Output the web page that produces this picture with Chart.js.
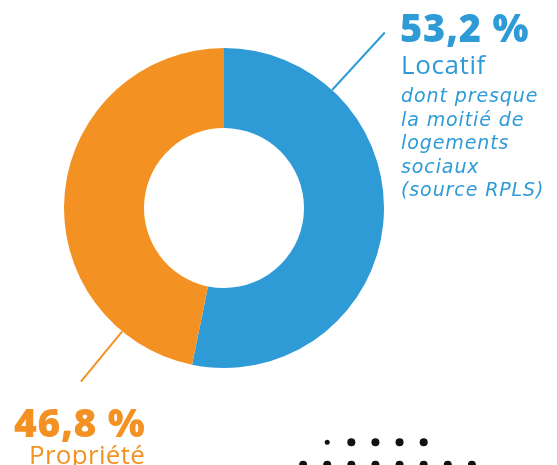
<!DOCTYPE html>
<html lang="fr">
<head>
<meta charset="utf-8">
<script src="https://cdn.jsdelivr.net/npm/chart.js@4/dist/chart.umd.min.js"></script>
<style>
  html, body { margin: 0; padding: 0; background: #fff; overflow: hidden; }
  #wrap { position: relative; width: 557px; height: 465px; font-family: "Open Sans", sans-serif; }
  #donut { position: absolute; left: 0; top: 0; }
  #dots { position: absolute; left: 275px; top: 416px; }
  .lbl { position: absolute; white-space: nowrap; line-height: 1; }
  .pct { font-weight: 800; font-size: 38px; letter-spacing: 0.8px; }
  .cat { font-size: 26px; letter-spacing: 0.6px; }
  .note { font-family: "DejaVu Sans", sans-serif; font-style: italic; font-size: 19px; line-height: 23.5px; letter-spacing: 0.9px; }
  .bleu { color: #2e9bd7; }
  .orange { color: #f39223; }
</style>
</head>
<body>
<div id="wrap">
  <canvas id="donut" width="557" height="465"></canvas>
  <canvas id="dots" width="225" height="75"></canvas>
  <div class="lbl pct bleu" style="left:400px; top:8px;">53,2 %</div>
  <div class="lbl cat bleu" style="left:401px; top:51px;">Locatif</div>
  <div class="lbl note bleu" style="left:401px; top:84px;">dont presque<br>la moitié de<br>logements<br>sociaux<br>(source RPLS)</div>
  <div class="lbl pct orange" style="left:14px; top:402px; font-size:39px; letter-spacing:0.6px;">46,8 %</div>
  <div class="lbl cat orange" style="left:29px; top:441px; letter-spacing:0.3px;">Propriété</div>
</div>
<script>
const categories = ['Locatif', 'Propriété'];
const valeurs = [53.2, 46.8];
const couleurs = ['#2e9bd7', '#f39223'];

// décor : points noirs en bas à droite (colonne, rangée)
const pointsRang1 = [1, 2, 3, 4, 5];
const pointsRang2 = [0, 1, 2, 3, 4, 5, 6, 7];

// traits de rappel : angle (degrés depuis le haut, sens horaire) et longueur
const rappels = [
  { angle: 42.5, long: 78, couleur: couleurs[0] },
  { angle: 219.5, long: 65, couleur: couleurs[1] }
];

const traitsRappel = {
  id: 'traitsRappel',
  afterDatasetsDraw(chart) {
    const arc = chart.getDatasetMeta(0).data[0];
    const ctx = chart.ctx;
    rappels.forEach(r => {
      const a = (r.angle - 90) * Math.PI / 180;
      const r0 = arc.outerRadius;
      const r1 = arc.outerRadius + r.long;
      ctx.save();
      ctx.strokeStyle = r.couleur;
      ctx.lineWidth = 2;
      ctx.beginPath();
      ctx.moveTo(arc.x + Math.cos(a) * r0, arc.y + Math.sin(a) * r0);
      ctx.lineTo(arc.x + Math.cos(a) * r1, arc.y + Math.sin(a) * r1);
      ctx.stroke();
      ctx.restore();
    });
  }
};

new Chart(document.getElementById('donut').getContext('2d'), {
  type: 'doughnut',
  data: {
    labels: categories,
    datasets: [{
      data: valeurs,
      backgroundColor: couleurs,
      borderWidth: 0
    }]
  },
  options: {
    responsive: false,
    animation: false,
    cutout: '50%',
    layout: { padding: { left: 64, top: 48, right: 173, bottom: 97 } },
    plugins: {
      legend: { display: false },
      tooltip: { enabled: false }
    }
  },
  plugins: [traitsRappel]
});

const decor = pointsRang1.map(c => ({ x: c, y: 2 }))
  .concat(pointsRang2.map(c => ({ x: c, y: 1 })));

new Chart(document.getElementById('dots').getContext('2d'), {
  type: 'scatter',
  data: {
    datasets: [{
      data: decor,
      backgroundColor: '#111',
      borderWidth: 0,
      pointRadius: decor.map((p, i) => (i === 0 ? 2.5 : 4))
    }]
  },
  options: {
    responsive: false,
    animation: false,
    clip: false,
    layout: { padding: 0 },
    scales: {
      x: { display: false, min: -1, max: 8 },
      y: { display: false, min: 0, max: 3 }
    },
    plugins: {
      legend: { display: false },
      tooltip: { enabled: false }
    }
  }
});
</script>
</body>
</html>
